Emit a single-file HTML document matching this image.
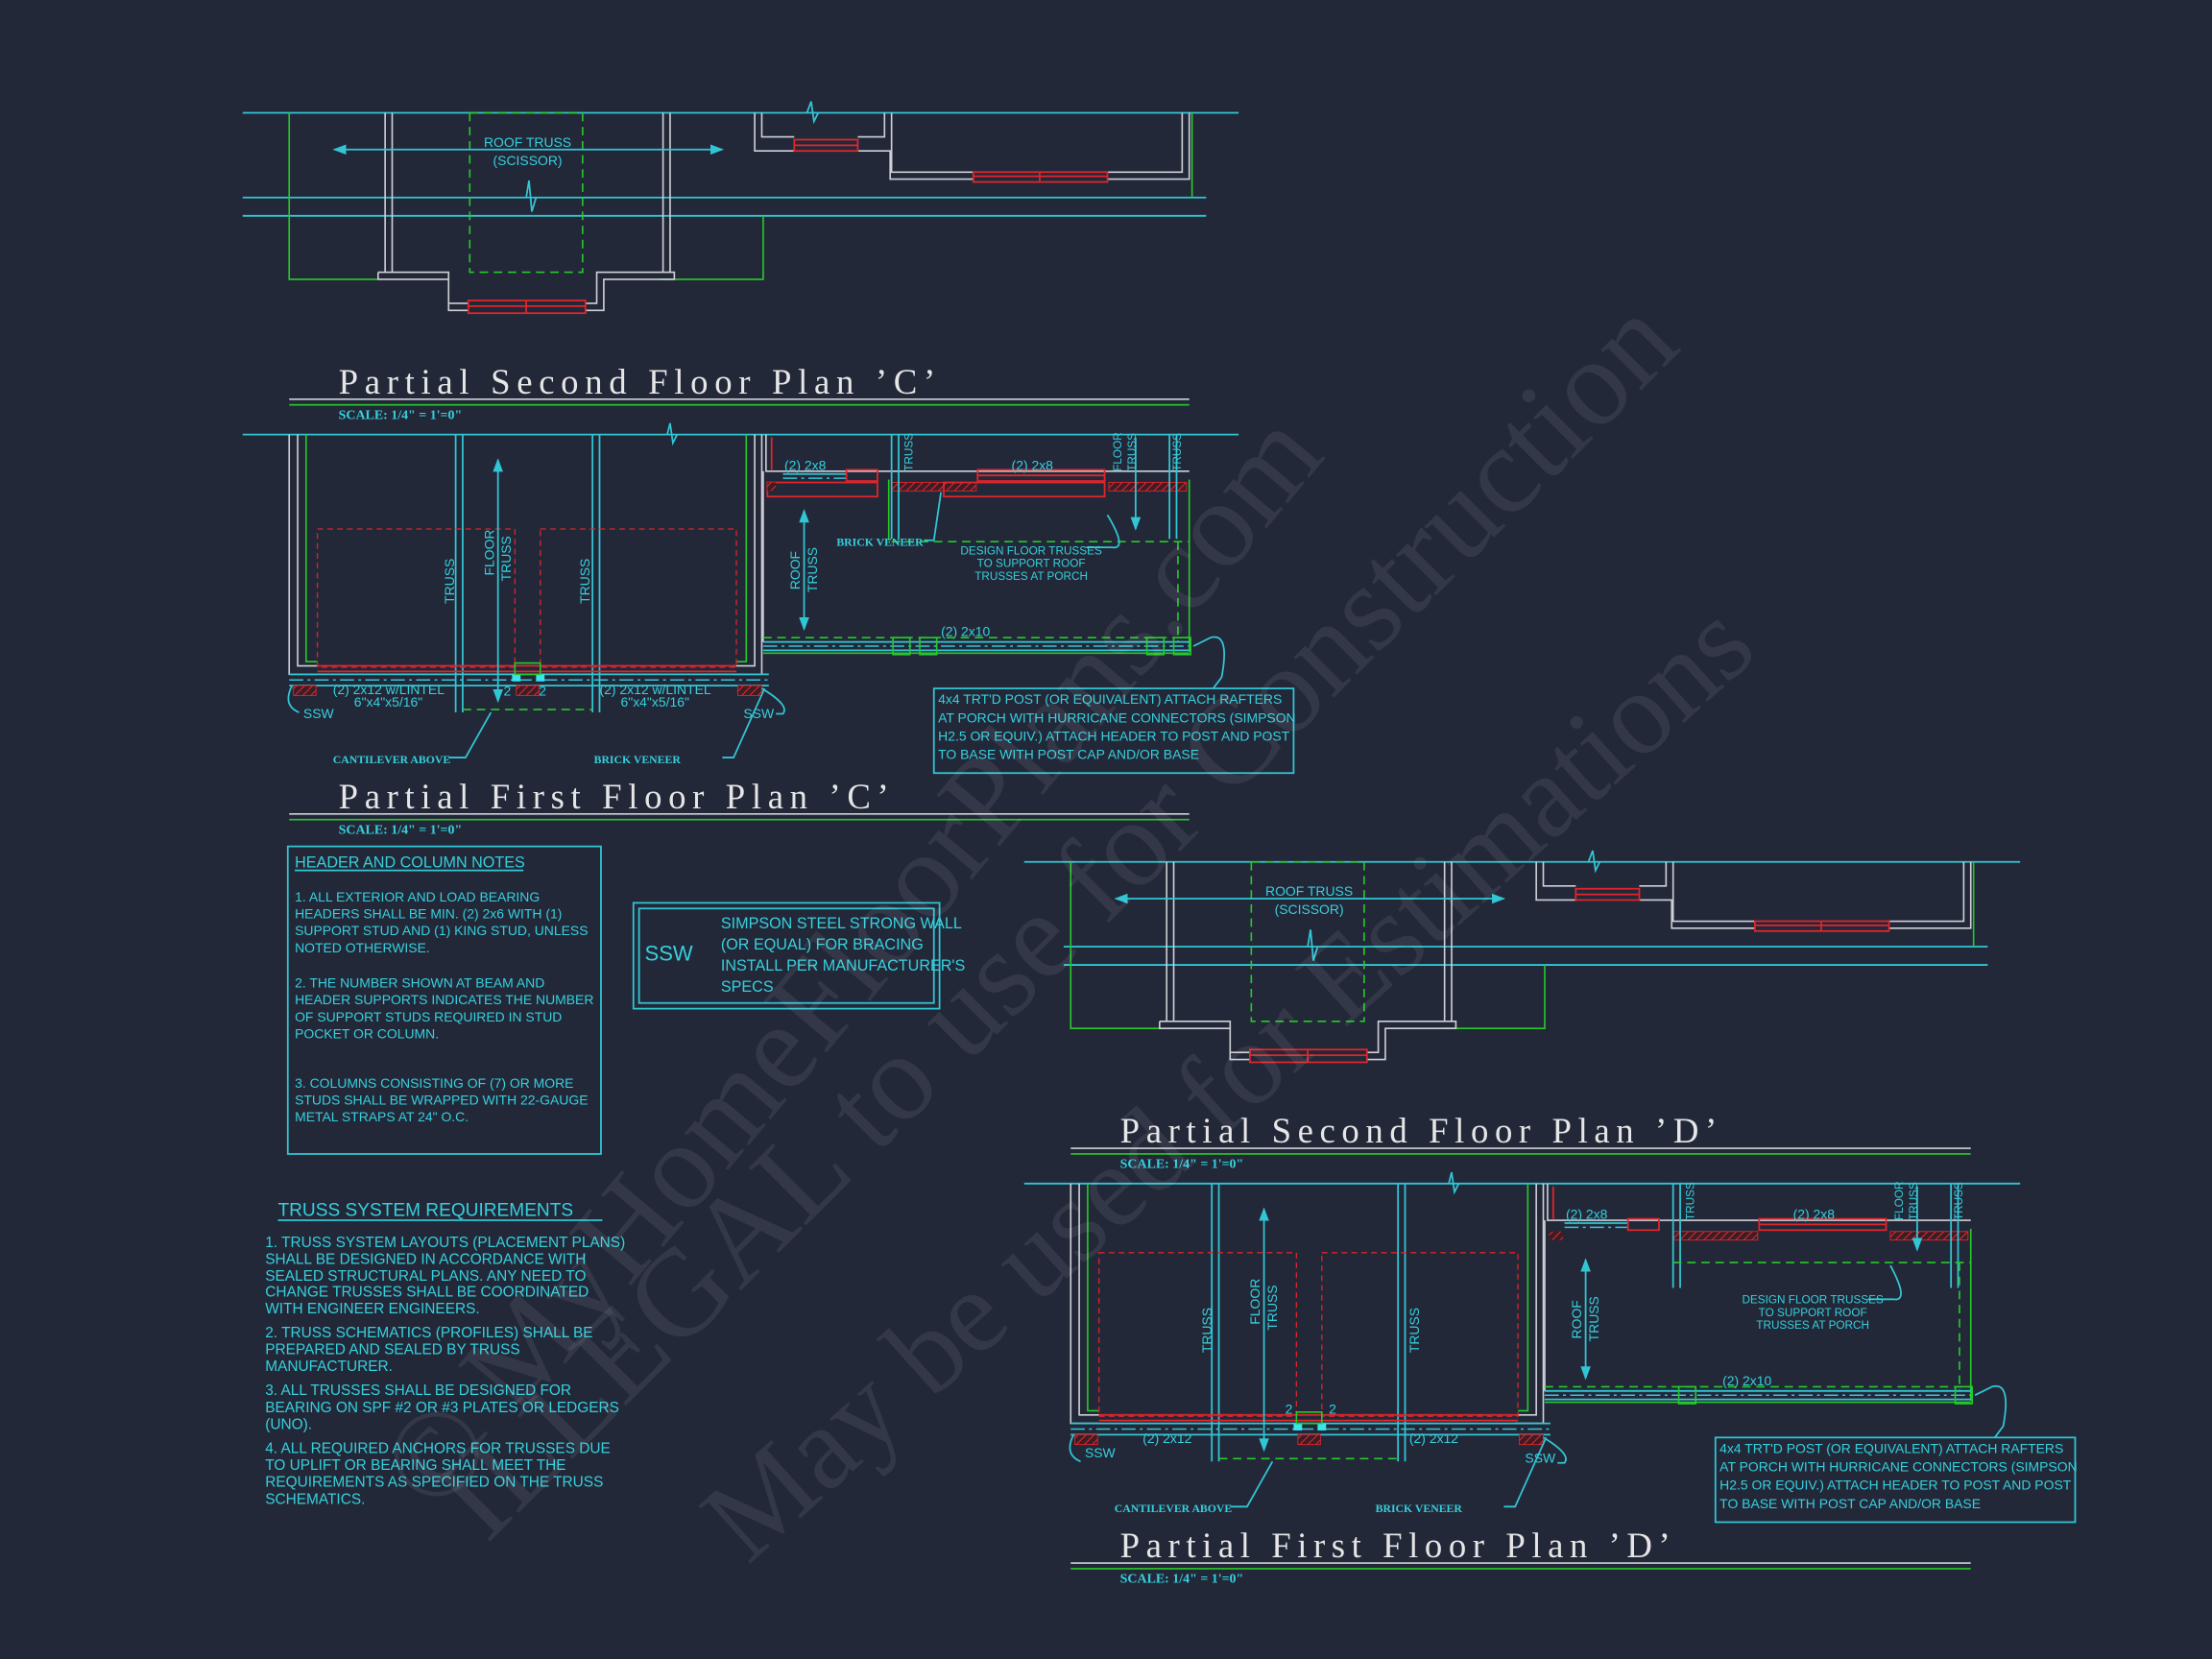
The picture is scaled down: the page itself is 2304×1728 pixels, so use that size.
<!DOCTYPE html>
<html><head><meta charset="utf-8"><style>
html,body{margin:0;padding:0;background:#232839;}
svg{display:block}
text{font-family:"Liberation Sans",sans-serif;fill:#35d0dc}
.t{font-family:"Liberation Serif",serif;fill:#e6e6e6;font-size:25px;letter-spacing:2px}
.sc{font-family:"Liberation Serif",serif;font-weight:bold;fill:#35d0dc;font-size:9.5px}
.n{font-size:9.5px}
.s{font-size:8px}
.b{font-family:"Liberation Serif",serif;font-weight:bold;font-size:8px}
.c{stroke:#31c6d4;fill:none;stroke-width:1.2}
.g{stroke:#27c92a;fill:none;stroke-width:1.1}
.gd{stroke:#27c92a;fill:none;stroke-width:1.1;stroke-dasharray:6 4}
.w{stroke:#cfcfd6;fill:none;stroke-width:1.1}
.r{stroke:#e0262b;fill:none;stroke-width:1.2}
.rd{stroke:#d8242a;fill:none;stroke-width:0.9;stroke-dasharray:4 3}
.cd{stroke:#31c6d4;fill:none;stroke-width:1;stroke-dasharray:10 3 2 3}
.wm{font-family:"Liberation Serif",serif;fill:#ffffff;opacity:0.07;font-size:88px}
</style></head><body>
<svg width="2304" height="1728" viewBox="0 0 1568 1176" preserveAspectRatio="none" xmlns="http://www.w3.org/2000/svg">
<defs>
<pattern id="h" width="4" height="4" patternUnits="userSpaceOnUse" patternTransform="rotate(45)"><rect width="4" height="4" fill="#3a1d26"/><line x1="0" y1="0" x2="0" y2="4" stroke="#e0262b" stroke-width="1.5"/></pattern>
<marker id="a" markerWidth="8" markerHeight="6" refX="7" refY="3" orient="auto"><path d="M0,0 L8,3 L0,6 z" fill="#31c6d4"/></marker>
<marker id="a0" markerWidth="8" markerHeight="6" refX="1" refY="3" orient="auto"><path d="M8,0 L0,3 L8,6 z" fill="#31c6d4"/></marker>
</defs>
<rect width="1568" height="1176" fill="#232839"/>

<!-- ===== Second floor C ===== -->
<g id="s2c">
<line class="c" x1="172" y1="80" x2="878" y2="80"/>
<line class="c" x1="172" y1="140" x2="855" y2="140"/>
<line class="c" x1="172" y1="153" x2="855" y2="153"/>
<path class="c" d="M572,80 l3,-8 l2,14 l3,-6" />
<path class="c" d="M373,140 l2,-12 l2,22 l3,-10" />
<path class="g" d="M205,80 V198 H268 M468,198 H541 V153"/>
<path class="w" d="M273,80 V193 M278,80 V193 M470,80 V193 M475,80 V193"/>
<path class="w" d="M268,193 H278 M268,193 V198 H318 V220 H332 M415,220 H428 V198 H478 V193 H470 M278,193 H318 V215 H332 M415,215 H423 V193 H470"/>
<rect x="332" y="213" width="83" height="9" class="r"/><line class="r" x1="332" y1="217" x2="415" y2="217"/><line class="r" x1="373" y1="213" x2="373" y2="222"/>
<rect x="333" y="80" width="80" height="113" class="gd"/>
<line class="c" x1="237" y1="106" x2="512" y2="106" marker-end="url(#a)" marker-start="url(#a0)"/>
<text class="n" x="374" y="104" text-anchor="middle">ROOF TRUSS</text>
<text class="n" x="374" y="117" text-anchor="middle">(SCISSOR)</text>
<path class="w" d="M535,80 V107 H563 M540,80 V97 H563 M608,97 H627 V80 M608,107 H631 V127 H690 M632,80 V122 H690 M785,122 H838 V80 M785,127 H843 V80"/>
<rect x="563" y="99" width="45" height="8" class="r"/><line class="r" x1="563" y1="103" x2="608" y2="103"/>
<rect x="690" y="122" width="95" height="7" class="r"/><line class="r" x1="690" y1="125" x2="785" y2="125"/><line class="r" x1="737" y1="122" x2="737" y2="129"/>
<line class="g" x1="845" y1="80" x2="845" y2="140"/>
<text class="t" x="240" y="279" textLength="425">Partial Second Floor Plan ’C’</text>
<line class="w" x1="205" y1="283" x2="843" y2="283" stroke-width="1.5"/>
<line class="g" x1="205" y1="287" x2="843" y2="287" stroke-width="1.5"/>
<text class="sc" x="240" y="297">SCALE: 1/4" = 1'=0"</text>
</g>

<!-- ===== First floor C ===== -->
<g id="f1c">
<line class="c" x1="172" y1="308" x2="878" y2="308"/>
<path class="c" d="M473,308 l2,-8 l2,14 l3,-6" />
<path class="w" d="M205,308 V478 H225 M211,308 V472 H225 M540,308 V478 H520 M535,308 V472 H520"/>
<path class="g" d="M217,308 V469 H225 M529,308 V469 H522"/>
<path class="c" d="M323,308 V505 M328,308 V505 M420,308 V505 M425,308 V505"/>
<rect class="rd" x="225" y="375" width="140" height="98"/>
<rect class="rd" x="383" y="375" width="139" height="98"/>
<line class="r" x1="225" y1="472" x2="522" y2="472"/><line class="r" x1="225" y1="476" x2="522" y2="476"/>
<line class="c" x1="205" y1="478" x2="545" y2="478"/>
<line class="cd" x1="205" y1="482" x2="545" y2="482"/>
<line class="c" x1="205" y1="486" x2="545" y2="486"/>
<rect x="363" y="478" width="6" height="5" fill="#38e6f0"/><rect x="380" y="478" width="6" height="5" fill="#38e6f0"/>
<rect x="365" y="470" width="18" height="8" class="g"/>
<rect x="208" y="486" width="16" height="7" fill="url(#h)" stroke="#e0262b" stroke-width="0.6"/>
<rect x="366" y="486" width="16" height="7" fill="url(#h)" stroke="#e0262b" stroke-width="0.6"/>
<rect x="523" y="486" width="17" height="7" fill="url(#h)" stroke="#e0262b" stroke-width="0.6"/>
<path class="gd" d="M328,503 H420"/>
<line class="c" x1="353" y1="326" x2="353" y2="497" marker-end="url(#a)" marker-start="url(#a0)"/>
<text class="n" transform="translate(322,428) rotate(-90)">TRUSS</text>
<text class="n" transform="translate(350,408) rotate(-90)">FLOOR</text>
<text class="n" transform="translate(362,412) rotate(-90)">TRUSS</text>
<text class="n" transform="translate(418,428) rotate(-90)">TRUSS</text>
<text class="n" x="236" y="492">(2) 2x12 w/LINTEL</text>
<text class="n" x="251" y="501">6"x4"x5/16"</text>
<text class="n" x="425" y="492">(2) 2x12 w/LINTEL</text>
<text class="n" x="440" y="501">6"x4"x5/16"</text>
<text class="n" x="357" y="493">2</text><text class="n" x="382" y="493">2</text>
<path class="c" d="M207,486 Q200,500 212,505"/><text class="n" x="215" y="509">SSW</text>
<path class="c" d="M540,488 Q560,500 555,506 H550"/><text class="n" x="527" y="509">SSW</text>
<path class="c" d="M348,505 L330,537 H318"/><text class="b" x="236" y="541">CANTILEVER ABOVE</text>
<path class="c" d="M542,488 L520,537 H512"/><text class="b" x="421" y="541">BRICK VENEER</text>
<path class="w" d="M543,308 V334 H843 M541,334 V455"/>
<path class="r" d="M547,310 V333"/>
<line class="c" x1="555" y1="336" x2="600" y2="336"/>
<line class="cd" x1="555" y1="339" x2="600" y2="339"/>
<rect class="r" x="600" y="333" width="22" height="8"/>
<rect class="r" x="693" y="333" width="90" height="8"/><line class="r" x1="693" y1="337" x2="783" y2="337"/>
<rect class="r" x="544" y="342" width="78" height="10"/>
<rect x="544" y="342" width="6" height="6" fill="url(#h)"/>
<rect x="632" y="342" width="60" height="6" fill="url(#h)" stroke="#e0262b" stroke-width="0.6"/>
<rect class="r" x="669" y="342" width="114" height="10"/>
<rect x="786" y="342" width="55" height="6" fill="url(#h)" stroke="#e0262b" stroke-width="0.6"/>
<path class="c" d="M632,308 V382 M637,308 V382 M829,308 V382 M834,308 V382"/>
<path class="g" d="M630,340 V383"/>
<line class="gd" x1="632" y1="384" x2="843" y2="384"/>
<line class="g" x1="843" y1="340" x2="843" y2="462"/>
<line class="gd" x1="835" y1="384" x2="835" y2="455"/>
<line class="c" x1="805" y1="310" x2="805" y2="375" marker-end="url(#a)"/>
<text class="s" transform="translate(647,334) rotate(-90)">TRUSS</text>
<text class="s" transform="translate(795,334) rotate(-90)">FLOOR</text>
<text class="s" transform="translate(805,334) rotate(-90)">TRUSS</text>
<text class="s" transform="translate(837,334) rotate(-90)">TRUSS</text>
<text class="n" x="556" y="333">(2) 2x8</text>
<text class="n" x="717" y="333">(2) 2x8</text>
<line class="c" x1="570" y1="362" x2="570" y2="446" marker-end="url(#a)" marker-start="url(#a0)"/>
<text class="n" transform="translate(567,418) rotate(-90)">ROOF</text>
<text class="n" transform="translate(579,420) rotate(-90)">TRUSS</text>
<path class="c" d="M667,349 L662,383 H655"/><text class="b" x="593" y="387">BRICK VENEER</text>
<path class="c" d="M785,365 Q800,390 788,388 H770"/>
<text class="s" x="731" y="393" text-anchor="middle">DESIGN FLOOR TRUSSES</text>
<text class="s" x="731" y="402" text-anchor="middle">TO SUPPORT ROOF</text>
<text class="s" x="731" y="411" text-anchor="middle">TRUSSES AT PORCH</text>
<text class="n" x="667" y="451">(2) 2x10</text>
<line class="gd" x1="541" y1="452" x2="843" y2="452"/>
<line class="c" x1="541" y1="455" x2="843" y2="455"/>
<line class="cd" x1="541" y1="458" x2="843" y2="458"/>
<line class="c" x1="541" y1="461" x2="843" y2="461"/>
<line class="g" x1="541" y1="463" x2="843" y2="463"/>
<g class="g"><rect x="633" y="452" width="12" height="12"/><rect x="652" y="452" width="12" height="12"/><rect x="813" y="452" width="12" height="12"/><rect x="832" y="452" width="12" height="12"/></g>
<path class="c" d="M846,458 L858,452 Q872,448 866,480 L860,488"/>
<rect class="c" x="662" y="488" width="255" height="60"/>
<text class="n" x="665" y="499">4x4 TRT'D POST (OR EQUIVALENT) ATTACH RAFTERS</text>
<text class="n" x="665" y="512">AT PORCH WITH HURRICANE CONNECTORS (SIMPSON</text>
<text class="n" x="665" y="525">H2.5 OR EQUIV.) ATTACH HEADER TO POST AND POST</text>
<text class="n" x="665" y="538">TO BASE WITH POST CAP AND/OR BASE</text>
<text class="t" x="240" y="573" textLength="392">Partial First Floor Plan ’C’</text>
<line class="w" x1="205" y1="577" x2="843" y2="577" stroke-width="1.5"/>
<line class="g" x1="205" y1="581" x2="843" y2="581" stroke-width="1.5"/>
<text class="sc" x="240" y="591">SCALE: 1/4" = 1'=0"</text>
</g>

<!-- ===== D (shifted) ===== -->
<g transform="translate(554,531)">
<line class="c" x1="172" y1="80" x2="878" y2="80"/>
<line class="c" x1="200" y1="140" x2="855" y2="140"/>
<line class="c" x1="200" y1="153" x2="855" y2="153"/>
<path class="c" d="M572,80 l3,-8 l2,14 l3,-6" />
<path class="c" d="M373,140 l2,-12 l2,22 l3,-10" />
<path class="g" d="M205,80 V198 H268 M468,198 H541 V153"/>
<path class="w" d="M273,80 V193 M278,80 V193 M470,80 V193 M475,80 V193"/>
<path class="w" d="M268,193 H278 M268,193 V198 H318 V220 H332 M415,220 H428 V198 H478 V193 H470 M278,193 H318 V215 H332 M415,215 H423 V193 H470"/>
<rect x="332" y="213" width="83" height="9" class="r"/><line class="r" x1="332" y1="217" x2="415" y2="217"/><line class="r" x1="373" y1="213" x2="373" y2="222"/>
<rect x="333" y="80" width="80" height="113" class="gd"/>
<line class="c" x1="237" y1="106" x2="512" y2="106" marker-end="url(#a)" marker-start="url(#a0)"/>
<text class="n" x="374" y="104" text-anchor="middle">ROOF TRUSS</text>
<text class="n" x="374" y="117" text-anchor="middle">(SCISSOR)</text>
<path class="w" d="M535,80 V107 H563 M540,80 V97 H563 M608,97 H627 V80 M608,107 H631 V127 H690 M632,80 V122 H690 M785,122 H838 V80 M785,127 H843 V80"/>
<rect x="563" y="99" width="45" height="8" class="r"/><line class="r" x1="563" y1="103" x2="608" y2="103"/>
<rect x="690" y="122" width="95" height="7" class="r"/><line class="r" x1="690" y1="125" x2="785" y2="125"/><line class="r" x1="737" y1="122" x2="737" y2="129"/>
<line class="g" x1="845" y1="80" x2="845" y2="140"/>
<text class="t" x="240" y="279" textLength="425">Partial Second Floor Plan ’D’</text>
<line class="w" x1="205" y1="283" x2="843" y2="283" stroke-width="1.5"/>
<line class="g" x1="205" y1="287" x2="843" y2="287" stroke-width="1.5"/>
<text class="sc" x="240" y="297">SCALE: 1/4" = 1'=0"</text>

<line class="c" x1="172" y1="308" x2="878" y2="308"/>
<path class="c" d="M473,308 l2,-8 l2,14 l3,-6" />
<path class="w" d="M205,308 V478 H225 M211,308 V472 H225 M540,308 V478 H520 M535,308 V472 H520"/>
<path class="g" d="M217,308 V469 H225 M529,308 V469 H522"/>
<path class="c" d="M305,308 V505 M310,308 V505 M437,308 V505 M442,308 V505"/>
<rect class="rd" x="225" y="357" width="140" height="116"/>
<rect class="rd" x="383" y="357" width="139" height="116"/>
<line class="r" x1="225" y1="472" x2="522" y2="472"/><line class="r" x1="225" y1="476" x2="522" y2="476"/>
<line class="c" x1="205" y1="478" x2="545" y2="478"/>
<line class="cd" x1="205" y1="482" x2="545" y2="482"/>
<line class="c" x1="205" y1="486" x2="545" y2="486"/>
<rect x="363" y="478" width="6" height="5" fill="#38e6f0"/><rect x="380" y="478" width="6" height="5" fill="#38e6f0"/>
<rect x="365" y="470" width="18" height="8" class="g"/>
<rect x="208" y="486" width="16" height="7" fill="url(#h)" stroke="#e0262b" stroke-width="0.6"/>
<rect x="366" y="486" width="16" height="7" fill="url(#h)" stroke="#e0262b" stroke-width="0.6"/>
<rect x="523" y="486" width="17" height="7" fill="url(#h)" stroke="#e0262b" stroke-width="0.6"/>
<path class="gd" d="M310,503 H437"/>
<line class="c" x1="342" y1="326" x2="342" y2="497" marker-end="url(#a)" marker-start="url(#a0)"/>
<text class="n" transform="translate(305,428) rotate(-90)">TRUSS</text>
<text class="n" transform="translate(339,408) rotate(-90)">FLOOR</text>
<text class="n" transform="translate(351,412) rotate(-90)">TRUSS</text>
<text class="n" transform="translate(452,428) rotate(-90)">TRUSS</text>
<text class="n" x="256" y="492">(2) 2x12</text>
<text class="n" x="445" y="492">(2) 2x12</text>
<text class="n" x="357" y="471">2</text><text class="n" x="388" y="471">2</text>
<path class="c" d="M207,486 Q200,500 212,505"/><text class="n" x="215" y="502">SSW</text>
<path class="c" d="M540,488 Q560,500 555,506 H550"/><text class="n" x="527" y="506">SSW</text>
<path class="c" d="M348,505 L330,537 H318"/><text class="b" x="236" y="541">CANTILEVER ABOVE</text>
<path class="c" d="M542,488 L520,537 H512"/><text class="b" x="421" y="541">BRICK VENEER</text>
<path class="w" d="M543,308 V334 H843 M541,334 V455"/>
<path class="r" d="M547,310 V333"/>
<line class="c" x1="555" y1="336" x2="600" y2="336"/>
<line class="cd" x1="555" y1="339" x2="600" y2="339"/>
<rect class="r" x="600" y="333" width="22" height="8"/>
<rect class="r" x="693" y="333" width="90" height="8"/><line class="r" x1="693" y1="337" x2="783" y2="337"/>
<rect x="544" y="342" width="10" height="6" fill="url(#h)"/>
<rect x="632" y="342" width="60" height="6" fill="url(#h)" stroke="#e0262b" stroke-width="0.6"/>
<rect x="786" y="342" width="55" height="6" fill="url(#h)" stroke="#e0262b" stroke-width="0.6"/>
<path class="c" d="M632,308 V382 M637,308 V382 M829,308 V382 M834,308 V382"/>
<line class="gd" x1="632" y1="364" x2="843" y2="364"/>
<line class="g" x1="843" y1="340" x2="843" y2="462"/>
<line class="gd" x1="835" y1="364" x2="835" y2="455"/>
<line class="c" x1="805" y1="310" x2="805" y2="355" marker-end="url(#a)"/>
<text class="s" transform="translate(647,334) rotate(-90)">TRUSS</text>
<text class="s" transform="translate(795,334) rotate(-90)">FLOOR</text>
<text class="s" transform="translate(805,334) rotate(-90)">TRUSS</text>
<text class="s" transform="translate(837,334) rotate(-90)">TRUSS</text>
<text class="n" x="556" y="333">(2) 2x8</text>
<text class="n" x="717" y="333">(2) 2x8</text>
<line class="c" x1="570" y1="362" x2="570" y2="446" marker-end="url(#a)" marker-start="url(#a0)"/>
<text class="n" transform="translate(567,418) rotate(-90)">ROOF</text>
<text class="n" transform="translate(579,420) rotate(-90)">TRUSS</text>
<path class="c" d="M786,366 Q800,392 788,390 H770"/>
<text class="s" x="731" y="393" text-anchor="middle">DESIGN FLOOR TRUSSES</text>
<text class="s" x="731" y="402" text-anchor="middle">TO SUPPORT ROOF</text>
<text class="s" x="731" y="411" text-anchor="middle">TRUSSES AT PORCH</text>
<text class="n" x="667" y="451">(2) 2x10</text>
<line class="gd" x1="541" y1="452" x2="843" y2="452"/>
<line class="c" x1="541" y1="455" x2="843" y2="455"/>
<line class="cd" x1="541" y1="458" x2="843" y2="458"/>
<line class="c" x1="541" y1="461" x2="843" y2="461"/>
<line class="g" x1="541" y1="463" x2="843" y2="463"/>
<g class="g"><rect x="636" y="452" width="12" height="12"/><rect x="832" y="452" width="12" height="12"/></g>
<path class="c" d="M846,458 L858,452 Q872,448 866,480 L860,488"/>
<rect class="c" x="662" y="488" width="255" height="60"/>
<text class="n" x="665" y="499">4x4 TRT'D POST (OR EQUIVALENT) ATTACH RAFTERS</text>
<text class="n" x="665" y="512">AT PORCH WITH HURRICANE CONNECTORS (SIMPSON</text>
<text class="n" x="665" y="525">H2.5 OR EQUIV.) ATTACH HEADER TO POST AND POST</text>
<text class="n" x="665" y="538">TO BASE WITH POST CAP AND/OR BASE</text>
<text class="t" x="240" y="573" textLength="392">Partial First Floor Plan ’D’</text>
<line class="w" x1="205" y1="577" x2="843" y2="577" stroke-width="1.5"/>
<line class="g" x1="205" y1="581" x2="843" y2="581" stroke-width="1.5"/>
<text class="sc" x="240" y="591">SCALE: 1/4" = 1'=0"</text>
</g>

<!-- Notes -->
<rect class="c" x="204" y="600" width="222" height="218"/>
<text x="209" y="615" style="font-size:11px">HEADER AND COLUMN NOTES</text>
<line class="c" x1="209" y1="617" x2="371" y2="617" stroke-width="0.8"/>
<g class="n">
<text x="209" y="639">1. ALL EXTERIOR AND LOAD BEARING</text>
<text x="209" y="651">HEADERS SHALL BE MIN. (2) 2x6 WITH (1)</text>
<text x="209" y="663">SUPPORT STUD AND (1) KING STUD, UNLESS</text>
<text x="209" y="675">NOTED OTHERWISE.</text>
<text x="209" y="700">2. THE NUMBER SHOWN AT BEAM AND</text>
<text x="209" y="712">HEADER SUPPORTS INDICATES THE NUMBER</text>
<text x="209" y="724">OF SUPPORT STUDS REQUIRED IN STUD</text>
<text x="209" y="736">POCKET OR COLUMN.</text>
<text x="209" y="771">3. COLUMNS CONSISTING OF (7) OR MORE</text>
<text x="209" y="783">STUDS SHALL BE WRAPPED WITH 22-GAUGE</text>
<text x="209" y="795">METAL STRAPS AT 24" O.C.</text>
</g>

<rect class="c" x="449" y="640" width="217" height="75"/>
<rect class="c" x="453" y="644" width="209" height="67"/>
<text x="457" y="681" style="font-size:15px">SSW</text>
<g style="font-size:11px">
<text x="511" y="658">SIMPSON STEEL STRONG WALL</text>
<text x="511" y="673">(OR EQUAL) FOR BRACING</text>
<text x="511" y="688">INSTALL PER MANUFACTURER'S</text>
<text x="511" y="703">SPECS</text>
</g>

<text x="197" y="862" style="font-size:13px">TRUSS SYSTEM REQUIREMENTS</text>
<line class="c" x1="197" y1="865" x2="427" y2="865" stroke-width="0.8"/>
<g style="font-size:10.5px">
<text x="188" y="884">1. TRUSS SYSTEM LAYOUTS (PLACEMENT PLANS)</text>
<text x="188" y="896">SHALL BE DESIGNED IN ACCORDANCE WITH</text>
<text x="188" y="908">SEALED STRUCTURAL PLANS. ANY NEED TO</text>
<text x="188" y="919">CHANGE TRUSSES SHALL BE COORDINATED</text>
<text x="188" y="931">WITH ENGINEER ENGINEERS.</text>
<text x="188" y="948">2. TRUSS SCHEMATICS (PROFILES) SHALL BE</text>
<text x="188" y="960">PREPARED AND SEALED BY TRUSS</text>
<text x="188" y="972">MANUFACTURER.</text>
<text x="188" y="989">3. ALL TRUSSES SHALL BE DESIGNED FOR</text>
<text x="188" y="1001">BEARING ON SPF #2 OR #3 PLATES OR LEDGERS</text>
<text x="188" y="1013">(UNO).</text>
<text x="188" y="1030">4. ALL REQUIRED ANCHORS FOR TRUSSES DUE</text>
<text x="188" y="1042">TO UPLIFT OR BEARING SHALL MEET THE</text>
<text x="188" y="1054">REQUIREMENTS AS SPECIFIED ON THE TRUSS</text>
<text x="188" y="1066">SCHEMATICS.</text>
</g>

<!-- watermark -->
<text class="wm" transform="translate(310,1075) rotate(-50)">© MyHomeFloorPlans.com</text>
<text class="wm" transform="translate(345,1095) rotate(-45)">ILLEGAL to use for Construction</text>
<text class="wm" transform="translate(530,1110) rotate(-42)" style="font-size:84px">May be used for Estimations</text>
</svg>
</body></html>
